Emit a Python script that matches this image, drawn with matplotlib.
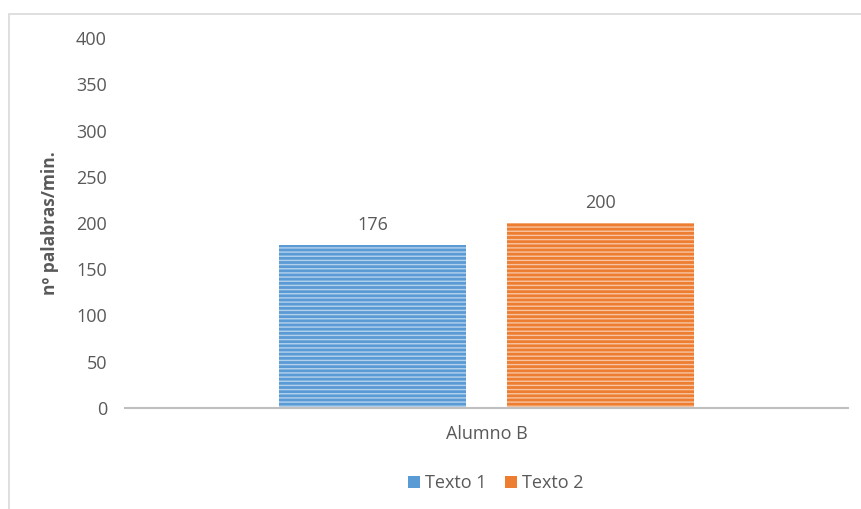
import matplotlib.pyplot as plt
from matplotlib.patches import Rectangle

categories = ["Alumno B"]
series_names = ["Texto 1", "Texto 2"]
texto1 = [176]
texto2 = [200]
colors = ["#5B9BD5", "#ED7D31"]
text_color = "#595959"

plt.rcParams["font.family"] = ["Open Sans", "DejaVu Sans"]
plt.rcParams["hatch.color"] = (1, 1, 1, 0.55)
plt.rcParams["hatch.linewidth"] = 1.0

W, H = 861, 509
fig = plt.figure(figsize=(W / 100, H / 100), dpi=100)
ax = fig.add_axes([125 / W, 1 - 408 / H, 723 / W, 370 / H])

# chart frame (only top and left edges visible in the crop)
fig.patches.append(Rectangle((9 / W, -0.1), 1.2, 1.1 - 14 / H,
                             transform=fig.transFigure, fill=False,
                             edgecolor="#D9D9D9", linewidth=1.2))

width = 0.2587
offset = 0.1577
x = range(len(categories))
for vals, name, col, sign in [(texto1, series_names[0], colors[0], -1),
                              (texto2, series_names[1], colors[1], 1)]:
    pos = [i + sign * offset for i in x]
    bars = ax.bar(pos, vals, width=width, color=col, label=name,
                  hatch="----", linewidth=0)
    for b, v in zip(bars, vals):
        ax.annotate(str(v), (b.get_x() + b.get_width() / 2, v),
                    xytext=(0, 8), textcoords="offset points",
                    ha="center", va="bottom", fontsize=13, color=text_color)

ax.set_xlim(-0.5, 0.5)
ax.set_ylim(0, 400)
ax.set_yticks(range(0, 401, 50))
ax.set_xticks(list(x))
ax.set_xticklabels(categories)
for s in ["top", "right", "left"]:
    ax.spines[s].set_visible(False)
ax.spines["bottom"].set_color("#BFBFBF")
ax.spines["bottom"].set_linewidth(1.5)
ax.tick_params(axis="y", length=0, pad=13, labelsize=13, labelcolor=text_color)
ax.tick_params(axis="x", length=0, pad=12, labelsize=13, labelcolor=text_color)
ax.set_ylabel("nº palabras/min.", fontsize=12.5, fontweight="bold",
              color=text_color, labelpad=12)

leg = fig.legend(loc="center", bbox_to_anchor=(496 / W, 1 - 483 / H),
                 ncol=2, frameon=False, fontsize=13, handlelength=0.65,
                 handleheight=0.65, columnspacing=1.0, handletextpad=0.3)
for t in leg.get_texts():
    t.set_color(text_color)
for h in leg.legend_handles:
    h.set_hatch(None)

fig.savefig("out.png", dpi=100)
